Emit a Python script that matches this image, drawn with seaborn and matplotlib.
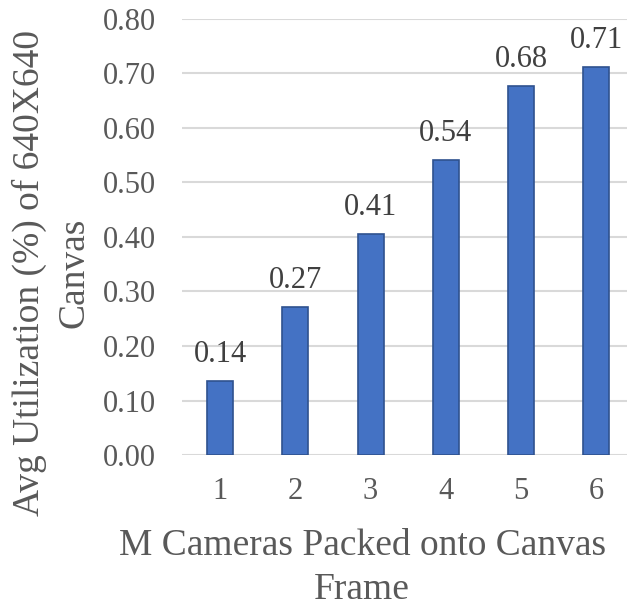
import matplotlib
matplotlib.use("Agg")
import matplotlib.pyplot as plt
import seaborn as sns
import pandas as pd

cameras = ["1", "2", "3", "4", "5", "6"]
utilization = [0.136, 0.271, 0.405, 0.541, 0.676, 0.712]
value_labels = ["0.14", "0.27", "0.41", "0.54", "0.68", "0.71"]
yticks = [0.0, 0.1, 0.2, 0.3, 0.4, 0.5, 0.6, 0.7, 0.8]

sns.set_style("white")
plt.rcParams['font.family'] = ['Liberation Serif', 'DejaVu Serif']

df = pd.DataFrame({"cam": cameras, "util": utilization})

fig = plt.figure(figsize=(6.27, 6.06), dpi=100)
ax = fig.add_axes([0.291, 0.249, 0.720, 0.720])
sns.barplot(data=df, x="cam", y="util", ax=ax, color="#4472C4",
            width=0.345, edgecolor="#2F528F", linewidth=1.2, saturation=1)

ax.set_ylim(0, 0.8)
ax.set_yticks(yticks)
ax.set_yticklabels([f"{t:.2f}" for t in yticks])
ax.yaxis.grid(True, color="#d9d9d9", linewidth=1.5)
ax.set_axisbelow(True)
for s in ["top", "right", "left", "bottom"]:
    ax.spines[s].set_visible(False)
ax.tick_params(axis="both", length=0, labelsize=22, labelcolor="#595959")
ax.tick_params(axis="y", pad=19)
ax.tick_params(axis="x", pad=16)

for p, lab in zip(ax.patches, value_labels):
    ax.text(p.get_x() + p.get_width() / 2, p.get_height() + 0.022, lab,
            ha="center", va="bottom", fontsize=22, color="#404040")

ax.set_xlabel("M Cameras Packed onto Canvas\nFrame", fontsize=27,
              color="#595959", linespacing=1.35)
ax.set_ylabel("Avg Utilization (%) of 640X640\nCanvas", fontsize=27,
              color="#595959", linespacing=1.35)
ax.xaxis.set_label_coords(0.398, -0.168)
ax.yaxis.set_label_coords(-0.202, 0.417)

fig.savefig("out.png", dpi=100)
